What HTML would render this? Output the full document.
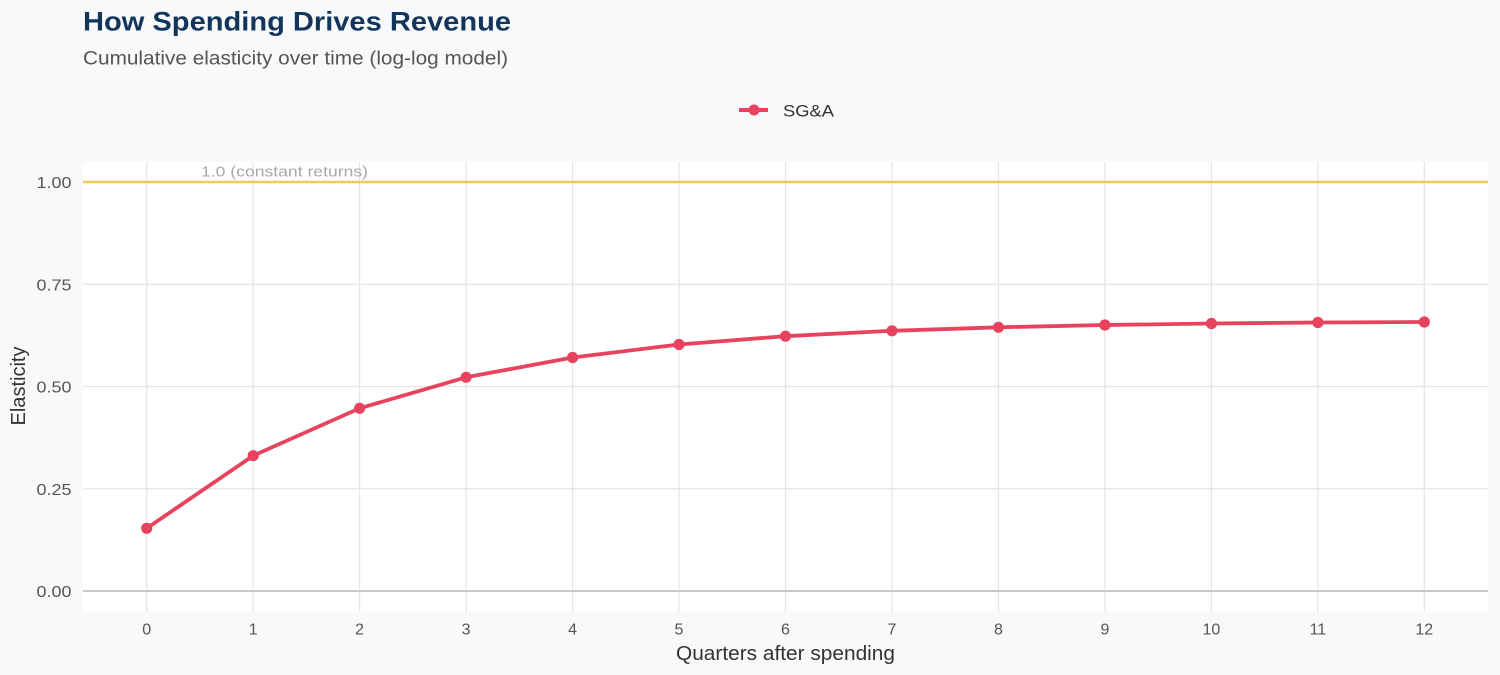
<!DOCTYPE html>
<html>
<head>
<meta charset="utf-8">
<style>
  html, body { margin: 0; padding: 0; background: #f8f9fb; }
  svg { display: block; }
  text { font-family: "Liberation Sans", Arial, sans-serif; }
</style>
</head>
<body>
<svg width="1500" height="675" viewBox="0 0 1500 675" xmlns="http://www.w3.org/2000/svg">
  <rect x="0" y="0" width="1500" height="675" fill="#f8f9fb"/>

  <!-- Title & subtitle -->
  <text x="83" y="30.5" font-size="27" font-weight="bold" fill="#12355b" textLength="428" lengthAdjust="spacingAndGlyphs">How Spending Drives Revenue</text>
  <text x="83" y="64.5" font-size="19" fill="#555555" textLength="425" lengthAdjust="spacingAndGlyphs">Cumulative elasticity over time (log-log model)</text>

  <!-- Legend -->
  <line x1="739" y1="110" x2="768" y2="110" stroke="#e8435e" stroke-width="4"/>
  <circle cx="754" cy="110" r="5.5" fill="#e8435e"/>
  <text x="783" y="116.5" font-size="17" fill="#333333" textLength="51" lengthAdjust="spacingAndGlyphs">SG&amp;A</text>

  <!-- Panel -->
  <rect x="83" y="162" width="1405" height="450" fill="#ffffff"/>

  <!-- horizontal grid -->
  <g stroke="#e4e4e4" stroke-width="1.2">
    <line x1="83" y1="284.25" x2="1488" y2="284.25"/>
    <line x1="83" y1="386.5" x2="1488" y2="386.5"/>
    <line x1="83" y1="488.75" x2="1488" y2="488.75"/>
    <line x1="83" y1="182" x2="1488" y2="182"/>
  </g>
  <!-- vertical grid -->
  <g stroke="#e4e4e4" stroke-width="1.2">
    <line x1="146.7" y1="162" x2="146.7" y2="612"/>
    <line x1="253.2" y1="162" x2="253.2" y2="612"/>
    <line x1="359.6" y1="162" x2="359.6" y2="612"/>
    <line x1="466.1" y1="162" x2="466.1" y2="612"/>
    <line x1="572.6" y1="162" x2="572.6" y2="612"/>
    <line x1="679.0" y1="162" x2="679.0" y2="612"/>
    <line x1="785.5" y1="162" x2="785.5" y2="612"/>
    <line x1="892.0" y1="162" x2="892.0" y2="612"/>
    <line x1="998.5" y1="162" x2="998.5" y2="612"/>
    <line x1="1104.9" y1="162" x2="1104.9" y2="612"/>
    <line x1="1211.4" y1="162" x2="1211.4" y2="612"/>
    <line x1="1317.9" y1="162" x2="1317.9" y2="612"/>
    <line x1="1424.3" y1="162" x2="1424.3" y2="612"/>
  </g>

  <!-- zero line -->
  <line x1="83" y1="591" x2="1488" y2="591" stroke="#c8c8c8" stroke-width="2"/>

  <!-- reference line at 1.0 -->
  <line x1="83" y1="182" x2="1488" y2="182" stroke="#f3c85c" stroke-width="2.5"/>
  <text x="201" y="176.5" font-size="15" fill="#a8a8a8" textLength="167" lengthAdjust="spacingAndGlyphs">1.0 (constant returns)</text>

  <!-- Series -->
  <polyline fill="none" stroke="#e8435e" stroke-width="3.8" stroke-linejoin="round" stroke-linecap="round"
    points="146.7,528.3 253.2,455.7 359.6,408.3 466.1,377.3 572.6,357.5 679.0,344.5 785.5,336.2 892.0,330.8 998.5,327.3 1104.9,325.0 1211.4,323.5 1317.9,322.5 1424.3,322.0"/>
  <g fill="#e8435e">
    <circle cx="146.7" cy="528.3" r="5.6"/>
    <circle cx="253.2" cy="455.7" r="5.6"/>
    <circle cx="359.6" cy="408.3" r="5.6"/>
    <circle cx="466.1" cy="377.3" r="5.6"/>
    <circle cx="572.6" cy="357.5" r="5.6"/>
    <circle cx="679.0" cy="344.5" r="5.6"/>
    <circle cx="785.5" cy="336.2" r="5.6"/>
    <circle cx="892.0" cy="330.8" r="5.6"/>
    <circle cx="998.5" cy="327.3" r="5.6"/>
    <circle cx="1104.9" cy="325.0" r="5.6"/>
    <circle cx="1211.4" cy="323.5" r="5.6"/>
    <circle cx="1317.9" cy="322.5" r="5.6"/>
    <circle cx="1424.3" cy="322.0" r="5.6"/>
  </g>

  <!-- Y tick labels -->
  <g font-size="16" fill="#555555">
    <text x="36.5" y="188" textLength="35" lengthAdjust="spacingAndGlyphs">1.00</text>
    <text x="36.5" y="290.25" textLength="35" lengthAdjust="spacingAndGlyphs">0.75</text>
    <text x="36.5" y="392.5" textLength="35" lengthAdjust="spacingAndGlyphs">0.50</text>
    <text x="36.5" y="494.75" textLength="35" lengthAdjust="spacingAndGlyphs">0.25</text>
    <text x="36.5" y="597" textLength="35" lengthAdjust="spacingAndGlyphs">0.00</text>
  </g>

  <!-- X tick labels -->
  <g font-size="16" fill="#555555" text-anchor="middle">
    <text x="146.7" y="634.5">0</text>
    <text x="253.2" y="634.5">1</text>
    <text x="359.6" y="634.5">2</text>
    <text x="466.1" y="634.5">3</text>
    <text x="572.6" y="634.5">4</text>
    <text x="679.0" y="634.5">5</text>
    <text x="785.5" y="634.5">6</text>
    <text x="892.0" y="634.5">7</text>
    <text x="998.5" y="634.5">8</text>
    <text x="1104.9" y="634.5">9</text>
    <text x="1211.4" y="634.5">10</text>
    <text x="1317.9" y="634.5">11</text>
    <text x="1424.3" y="634.5">12</text>
  </g>

  <!-- Axis titles -->
  <text x="785.5" y="660" font-size="20" fill="#333333" text-anchor="middle" textLength="219" lengthAdjust="spacingAndGlyphs">Quarters after spending</text>
  <text transform="translate(25,386) rotate(-90)" x="0" y="0" font-size="20" fill="#333333" text-anchor="middle" textLength="79" lengthAdjust="spacingAndGlyphs">Elasticity</text>
</svg>
</body>
</html>
